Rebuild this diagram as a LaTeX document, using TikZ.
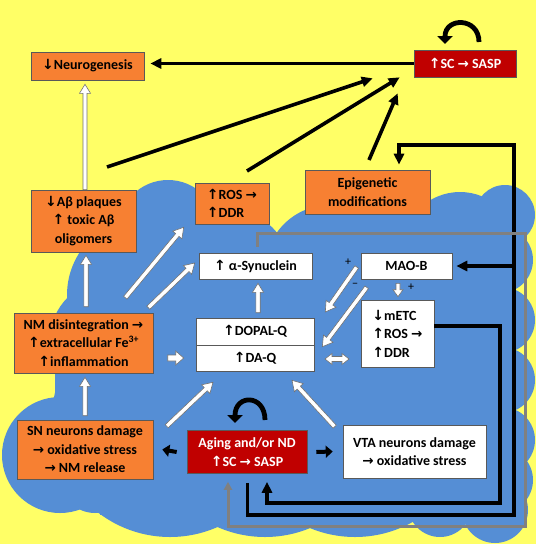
\documentclass[tikz,border=0pt]{standalone}
\usepackage{fontspec}
\setmainfont{Carlito}
\newfontfamily\arrfont{DejaVu Sans}
\usetikzlibrary{arrows.meta,calc}
\definecolor{bgyellow}{RGB}{255,255,102}
\definecolor{cloudblue}{RGB}{85,142,213}
\definecolor{boxorange}{RGB}{247,128,50}
\definecolor{boxred}{RGB}{192,0,0}
\newcommand\myua{{\arrfont\bfseries\fontsize{14}{14}\selectfont ↑}}
\newcommand\myda{{\arrfont\bfseries\fontsize{14}{14}\selectfont ↓}}
\newcommand\myra{{\arrfont\bfseries\fontsize{13.5}{13.5}\selectfont →}}
\newcommand\warrow[5]{%
  \coordinate (wA) at (#1);
  \coordinate (wB) at (#2);
  \coordinate (wH) at ($(wB)!#3!(wA)$);
  \filldraw[warr] ($(wA)!#5!90:(wB)$) -- ($(wH)!#5!90:(wB)$) -- ($(wH)!#4!90:(wB)$) -- (wB)
     -- ($(wH)!#4!-90:(wB)$) -- ($(wH)!#5!-90:(wB)$) -- ($(wA)!#5!-90:(wB)$) -- cycle;}
\begin{document}
\begin{tikzpicture}[x=1pt,y=-1pt,
  box/.style={draw=black!65, line width=0.6pt, font=\fontsize{14}{18.5}\selectfont\bfseries, align=center, inner sep=1pt},
  obox/.style={box, fill=boxorange},
  wbox/.style={box, fill=white},
  rbox/.style={box, fill=boxred, text=white},
  blk/.style={line width=3.6pt, -{Triangle[length=11pt,width=10pt]}},
  blks/.style={line width=4pt, -{Triangle[length=7pt,width=12pt]}},
  curv/.style={line width=4.8pt, -{Triangle[length=8pt,width=15pt]}},
  grayarr/.style={draw=black!50, line width=3pt, -{Triangle[length=8pt,width=8pt]}},
  warr/.style={fill=white, draw=black!55, line width=0.6pt, line join=miter},
  sign/.style={font=\fontsize{12}{12}\selectfont, inner sep=0pt}]
\useasboundingbox (0,0) rectangle (536,544);
\fill[bgyellow] (0,0) rectangle (536,544);
% cloud
\fill[cloudblue] (100,240) rectangle (515,515);
\fill[cloudblue] (55,320) rectangle (100,480);
\foreach \cx/\cy/\r in {145/295/78, 168/230/50, 230/270/60, 330/270/65, 395/250/50, 460/250/58,
  505/215/30, 500/260/33, 502/320/33, 502/380/33, 502/440/33, 500/480/33, 495/510/33,
  60/455/58, 95/478/35, 110/340/60, 170/419/118, 265/419/118, 355/419/118, 440/505/32}
  \fill[cloudblue] (\cx,\cy) circle[radius=\r];
% nodes
\node[obox, minimum width=113pt, minimum height=28pt] (neuro) at (87.5,66) {\myda Neurogenesis};
\node[rbox, minimum width=102pt, minimum height=27pt] (sasp) at (465,63.5) {\myua SC \myra\ SASP};
\node[obox, minimum width=105pt, minimum height=62pt] (abeta) at (83.5,221) {\myda Aβ plaques\\\myua\ toxic Aβ\\oligomers};
\node[obox, minimum width=74pt, minimum height=41pt, align=left] (ros) at (232,203.5) {\myua ROS \myra\\\myua DDR};
\node[obox, minimum width=125pt, minimum height=44pt] (epi) at (367.5,192) {Epigenetic\\modifications};
\node[wbox, minimum width=113pt, minimum height=26pt] (asyn) at (255.5,266) {\myua\ α-Synuclein};
\node[wbox, minimum width=118pt, minimum height=27pt] (dopal) at (255,331.5) {\myua DOPAL-Q};
\node[wbox, minimum width=118pt, minimum height=26pt] (daq) at (255,358) {\myua DA-Q};
\node[wbox, minimum width=91pt, minimum height=26pt] (maob) at (406.5,266) {MAO-B};
\node[wbox, minimum width=73pt, minimum height=67pt, align=left] (metc) at (397.5,333.5) {\myda mETC\\\myua ROS \myra\\\myua DDR};
\node[obox, minimum width=139pt, minimum height=60pt] (nm) at (83.5,343) {NM disintegration \myra\\\myua extracellular Fe\textsuperscript{3+}\\\myua inflammation};
\node[obox, minimum width=136pt, minimum height=59pt] (sn) at (85,449.5) {SN neurons damage\\\myra\ oxidative stress\\\myra\ NM release};
\node[rbox, minimum width=120pt, minimum height=43pt] (aging) at (247,452) {Aging and/or ND\\\myua SC \myra\ SASP};
\node[wbox, minimum width=143pt, minimum height=53pt] (vta) at (414.5,451.5) {VTA neurons damage\\\myra\ oxidative stress};
\node[sign] (plus1) at (348,262) {+};
\node[sign] (minus1) at (355,285) {−};
\node[sign] (plus2) at (411,287) {+};
% black connectors
\draw[blk, shorten >=6pt] (sasp.west) -- (sasp.west -| neuro.east);
\coordinate (s1) at (107,167);
\coordinate (s2) at (247,171);
\coordinate (s3) at (369,160);
\draw[blk] (s1) -- ($(sasp.south west)+(-41,1)$);
\draw[blk] (s2) -- ($(sasp.south west)+(-14,0)$);
\draw[blk] (s3) -- ($(sasp.south west)+(-16,16)$);
\draw[blk, shorten >=8pt] ([yshift=7.5pt]metc.east) -| (500,503) -| ([xshift=20pt]aging.south);
\draw[blk, shorten <=9pt, shorten >=5pt] ([xshift=0.5pt]aging.south) |- (514,515) |- ($(epi.north)+(31.5,-25)$) -- ($(epi.north)+(31.5,0)$);
\coordinate (jn) at (514,266);
\draw[blk, shorten >=4pt] (jn) -- (maob.east);
\draw[grayarr, shorten <=6pt, shorten >=8pt] ([xshift=1.5pt]asyn.north) |- (525,233) |- (228,526) -- ([xshift=-19pt]aging.south);
\draw[blks] ([xshift=-10pt]aging.west) -- ([xshift=9pt]sn.east);
\draw[blks] ([xshift=9pt]aging.east) -- ([xshift=-10pt]vta.west);
\draw[curv] (479,42) .. controls (479,17) and (445,17) .. (445,44);
\draw[curv] (265,420) .. controls (265,394) and (235,394) .. (235,423);
% white arrows
\warrow{$(abeta.north)+(1.5,0)$}{$(abeta.north|-neuro.south)+(1.5,4)$}{9pt}{5.5pt}{2pt}
\warrow{$(sn.north)+(0,-4)$}{$(sn.north|-nm.south)+(0,4)$}{9pt}{5.5pt}{2.2pt}
\warrow{$(nm.north)+(2.5,-6)$}{$(abeta.south)+(2.5,3)$}{9pt}{5.5pt}{2.2pt}
\warrow{$(nm.north east)+(-28,-15)$}{$(ros.south west)+(-11,3)$}{10pt}{6pt}{2.2pt}
\warrow{$(nm.north east)+(-5,-5)$}{$(asyn.west)+(-4,-3)$}{10pt}{6pt}{2.2pt}
\warrow{$(dopal.north)+(3,-5)$}{$(asyn.south)+(2.5,4)$}{9pt}{5.5pt}{2.2pt}
\warrow{$(daq.west)+(-28,0)$}{$(daq.west)+(-12,0)$}{8pt}{7pt}{3pt}
\warrow{$(maob.west)+(-4,1)$}{$(dopal.east)+(11,-19.5)$}{10pt}{6pt}{2.2pt}
\warrow{$(maob.south west)+(6,8)$}{$(daq.north east)+(8,2)$}{10pt}{6pt}{2.2pt}
\warrow{$(maob.south)+(-8.5,4)$}{$(metc.north)+(0.5,-3)$}{7pt}{5pt}{2pt}
\warrow{$(aging.north west)+(-20,-4)$}{$(daq.south)+(-42,11)$}{10pt}{6pt}{2.2pt}
\warrow{$(vta.north west)+(-8,2)$}{$(daq.south)+(37,9)$}{10pt}{6pt}{2.2pt}
\filldraw[warr] (325,359) -- (332,353.5) -- (332,356.5) -- (342,356.5) -- (342,353.5) -- (349,359)
  -- (342,364.5) -- (342,361.5) -- (332,361.5) -- (332,364.5) -- cycle;
\end{tikzpicture}
\end{document}
